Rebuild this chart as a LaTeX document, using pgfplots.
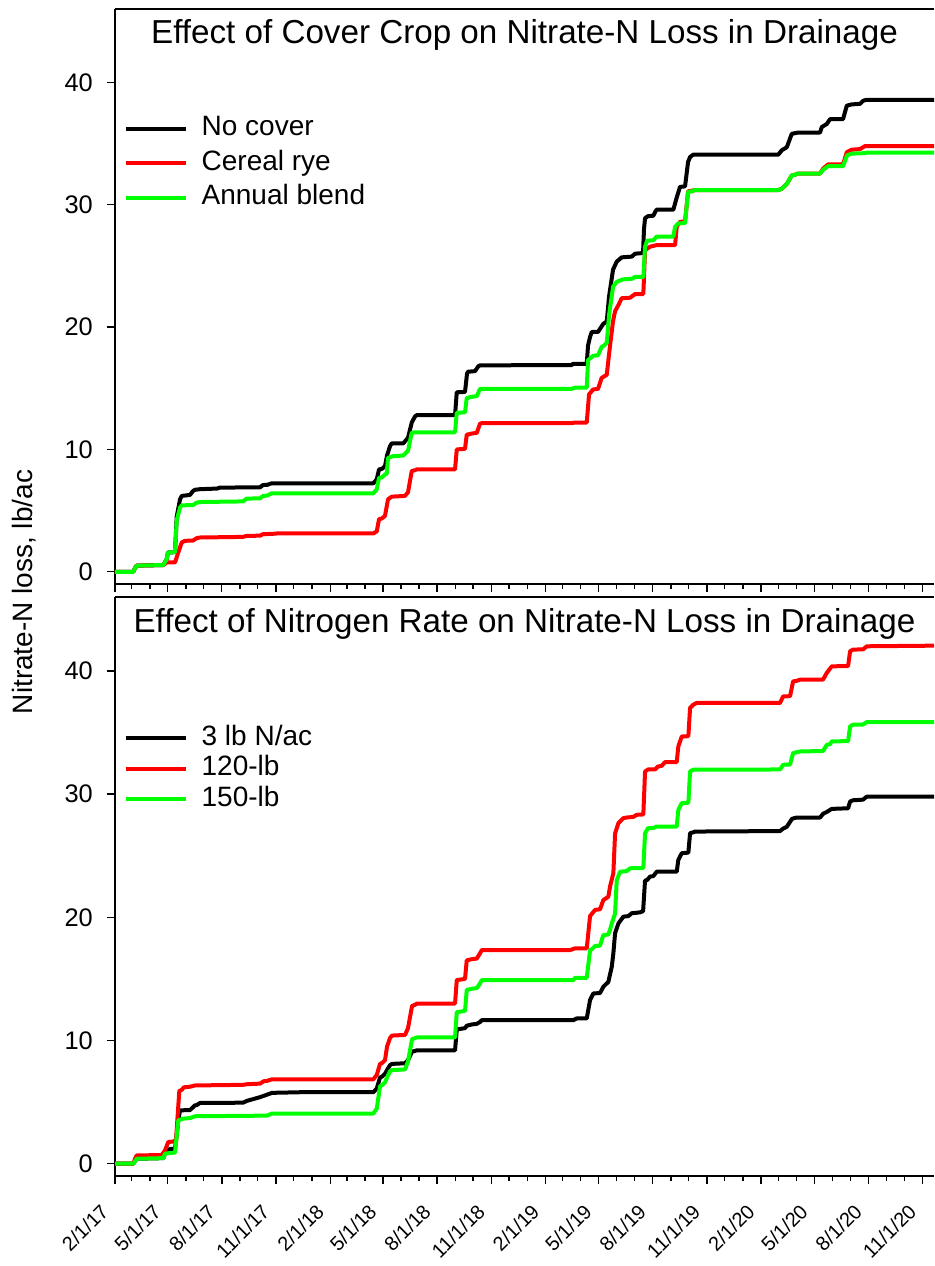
\documentclass[border=0pt]{standalone}
\usepackage{pgfplots}
\pgfplotsset{compat=1.18}
\usepackage{fontspec}
\setmainfont{Liberation Sans}
\definecolor{lred}{RGB}{255,0,0}
\definecolor{lgreen}{RGB}{0,255,0}
\pgfplotsset{
 common/.style={
  scale only axis, width=409.5pt,
  xmin=0, xmax=1388, ymin=-1, ymax=46,
  axis x line=box, axis y line=left,
  axis line style={-, line width=0.7pt},
  every tick/.style={black, line width=0.7pt},
  tick align=outside, xtick pos=left, ytick pos=left,
  xtick={0,89,181,273,365,454,546,638,730,819,911,1003,1095,1185,1277,1369},
  minor xtick={28,59,120,150,212,242,303,334,393,424,485,515,577,607,668,699,758,789,850,880,942,972,1033,1064,1124,1155,1216,1246,1308,1338},
  ytick={0,10,20,30,40},
  major tick length=4.2pt, minor tick length=2.4pt,
  yticklabel style={font=\fontsize{12.7}{15}\selectfont},
  /pgf/number format/assume math mode=true,
  yticklabel style={inner sep=0pt, xshift=-6.7pt, anchor=east},
  legend cell align=left,
  legend image code/.code={\draw[#1] (0pt,0pt) -- (30pt,0pt);},
  legend style={draw=none, fill=none, inner sep=0pt, font=\fontsize{14}{17}\selectfont, column sep=7pt, nodes={inner sep=0pt, text height=10pt, text depth=3pt}},
  every axis plot/.append style={line width=2pt, line join=round},
 }
}
\begin{document}
\begin{tikzpicture}
\useasboundingbox (0,0) rectangle (467pt,633pt);
% ---------------- top panel ----------------
\begin{axis}[common, at={(57.5pt,341pt)}, anchor=south west, height=287.5pt,
  xticklabels={},
  legend style={at={(axis description cs:0.0101,0.815)}, anchor=north west, row sep=4.25pt}]
\addplot[black] coordinates {(0,0) (31,0) (33.9,0.3) (36.8,0.5) (81.9,0.55) (87.6,1.03) (89.8,1.58) (101.7,1.6) (104.6,4.5) (110.2,5.92) (113.1,6.2) (127.1,6.28) (132.2,6.6) (135.6,6.7) (144.1,6.75) (172.9,6.8) (178,6.88) (245.8,6.9) (250.8,7.09) (257.6,7.1) (265.6,7.23) (437.8,7.23) (443.6,7.55) (447.5,8.37) (452,8.4) (457.6,8.63) (461,9.5) (466.1,10.27) (469,10.49) (488.6,10.5) (496.6,10.95) (502.9,12.2) (508.5,12.7) (511.4,12.8) (576.3,12.8) (579.2,14.67) (593.2,14.7) (596.6,16.2) (598.3,16.35) (610.2,16.4) (615.8,16.8) (618.6,16.87) (774.1,16.9) (776.3,17.0) (799.5,17.0) (801.7,18.5) (805.1,19.2) (808,19.6) (818.6,19.6) (827.6,20.27) (833.4,20.45) (837.3,22.5) (844.1,24.7) (850.3,25.35) (858.8,25.7) (875.8,25.76) (881.4,26.0) (894.9,26.05) (896.5,28.0) (898.3,28.9) (903.4,29.07) (912.4,29.1) (915.3,29.4) (918,29.6) (946.3,29.6) (952,30.6) (957.6,31.46) (966.1,31.5) (971.2,33.5) (974.6,33.9) (980.2,34.1) (1124.2,34.1) (1130,34.45) (1138.5,34.7) (1147,35.8) (1152.5,35.85) (1157.6,35.9) (1194.9,35.9) (1197.8,36.35) (1206.3,36.6) (1211.9,37.0) (1233.9,37.0) (1240.2,38.1) (1248.6,38.2) (1262.7,38.25) (1267.8,38.5) (1274.1,38.58) (1388,38.58)};
\addlegendentry{No cover}
\addplot[lred] coordinates {(0,0) (31,0) (33.9,0.3) (36.8,0.5) (81.9,0.55) (87.6,0.76) (101.7,0.76) (107.3,1.58) (113.1,2.4) (118.6,2.53) (132.2,2.55) (138.5,2.75) (144.1,2.8) (216.9,2.85) (223.2,2.93) (245.8,2.95) (250.8,3.07) (267.8,3.1) (274.1,3.13) (437.8,3.13) (443.6,3.3) (447.5,4.3) (452,4.35) (457.6,4.57) (462.7,5.92) (469,6.14) (491.5,6.2) (496.6,6.5) (502.9,8.23) (508.5,8.3) (511.4,8.37) (576.3,8.37) (579.2,10.0) (593.2,10.05) (596.1,11.2) (604.6,11.3) (613.1,11.35) (618.6,12.1) (621.5,12.15) (774.1,12.15) (779.7,12.2) (799.5,12.2) (803.4,14.5) (810.2,14.9) (818.6,14.95) (824.9,15.85) (833.4,16.1) (839,18.5) (844.1,20.5) (847.5,21.3) (853.1,21.8) (858.8,22.36) (872.9,22.4) (881.4,22.7) (895.4,22.7) (898.3,26.3) (906.8,26.57) (918.1,26.7) (949.2,26.7) (952,28.2) (957.6,28.6) (966.1,28.65) (971.2,31.1) (978,31.15) (983.1,31.2) (1124.2,31.2) (1130,31.3) (1138.5,31.7) (1147,32.4) (1152.5,32.45) (1157.6,32.55) (1194.9,32.55) (1200,32.95) (1208.5,33.3) (1233.9,33.3) (1240.2,34.3) (1248.6,34.5) (1262.7,34.55) (1271.2,34.8) (1388,34.8)};
\addlegendentry{Cereal rye}
\addplot[lgreen] coordinates {(0,0) (31,0) (33.9,0.3) (36.8,0.5) (81.9,0.55) (87.6,1.03) (89.8,1.58) (101.7,1.6) (104.6,4.2) (110.2,5.25) (113.1,5.43) (132.2,5.45) (138.5,5.65) (144.1,5.7) (216.9,5.75) (223.2,5.98) (245.8,6.0) (250.8,6.2) (257.6,6.22) (265.6,6.41) (437.8,6.41) (443.6,6.74) (447.5,7.69) (452,7.7) (457.6,7.96) (460.5,8.0) (462.7,9.32) (466.1,9.35) (471.2,9.45) (488.6,9.5) (496.6,9.9) (502.9,11.36) (508.5,11.4) (576.3,11.4) (579.2,13.0) (593.2,13.03) (596.1,14.2) (604.6,14.3) (613.1,14.35) (618.6,14.95) (774.1,14.95) (779.7,15.05) (799.5,15.05) (801.7,17.3) (810.2,17.65) (818.6,17.7) (824.9,18.4) (827.6,18.45) (833.4,18.7) (837.3,21.0) (844.1,23.3) (850.3,23.7) (861,23.9) (876.3,23.95) (881.4,24.1) (895.4,24.1) (898.3,26.57) (901.7,27.06) (912.4,27.1) (918.1,27.4) (946.3,27.4) (949.2,28.2) (954.7,28.47) (966.1,28.5) (971.2,31.05) (978,31.1) (983.1,31.2) (1124.2,31.2) (1130,31.3) (1138.5,31.7) (1147,32.4) (1152.5,32.45) (1157.6,32.55) (1194.9,32.55) (1200,32.85) (1208.5,33.15) (1233.9,33.15) (1240.7,34.04) (1248.6,34.18) (1262.7,34.2) (1271.2,34.22) (1274.6,34.26) (1388,34.26)};
\addlegendentry{Annual blend}
\node[anchor=base, font=\fontsize{16.6}{20}\selectfont] at ([yshift=-17pt]rel axis cs:0.5,1) {Effect of Cover Crop on Nitrate-N Loss in Drainage};
\end{axis}
% ---------------- bottom panel ----------------
\begin{axis}[common, at={(57.5pt,45pt)}, anchor=south west, height=289.5pt,
  xticklabels={2/1/17,5/1/17,8/1/17,11/1/17,2/1/18,5/1/18,8/1/18,11/1/18,2/1/19,5/1/19,8/1/19,11/1/19,2/1/20,5/1/20,8/1/20,11/1/20},
  xticklabel style={font=\fontsize{10}{12}\selectfont, xshift=-5pt, yshift=-11.75pt, rotate=45, anchor=east, inner sep=0pt},
  legend style={at={(axis description cs:0.0101,0.7796)}, anchor=north west, row sep=2.3pt}]
\addplot[black] coordinates {(0,0) (31,0) (33.9,0.2) (36.8,0.4) (81.9,0.45) (84.7,0.8) (89.8,1.08) (93.2,1.2) (101.7,1.2) (107.3,3.5) (110.2,4.33) (127.1,4.35) (135.6,4.74) (138.5,4.75) (144.1,4.93) (216.9,4.95) (223.7,5.1) (245.8,5.4) (257.6,5.6) (266.1,5.75) (313.6,5.8) (437.8,5.8) (443.6,6.1) (449.2,7.0) (452,7.05) (457.6,7.3) (461,7.6) (466.1,8.0) (469.5,8.1) (491.5,8.15) (496.6,8.4) (503.4,9.1) (508.5,9.15) (511.4,9.2) (576.3,9.2) (579.2,10.9) (593.2,11.0) (596.1,11.2) (604.6,11.3) (613.1,11.35) (618.6,11.5) (621.5,11.65) (776.8,11.65) (782.5,11.79) (799.5,11.79) (805.1,13.28) (810.7,13.82) (822,13.85) (827.6,14.36) (836.1,14.76) (841.9,15.98) (844.6,17.07) (847.5,18.7) (853.1,19.5) (861.5,20.05) (870,20.1) (875.8,20.33) (889.8,20.4) (895,20.5) (898.3,23.0) (901.2,23.0) (906.8,23.3) (912.4,23.35) (918.1,23.7) (952,23.7) (954.7,24.66) (960.5,25.2) (971.7,25.25) (974.6,26.83) (980.2,26.9) (983.1,26.96) (1127.1,27.0) (1132.2,27.2) (1138.5,27.35) (1147.5,28.0) (1155.4,28.1) (1195,28.1) (1200,28.4) (1206.3,28.55) (1214.7,28.8) (1242.4,28.85) (1245.8,29.4) (1250.8,29.5) (1267.8,29.55) (1274.1,29.8) (1388,29.8)};
\addlegendentry{3 lb N/ac}
\addplot[lred] coordinates {(0,0) (31,0) (33.9,0.4) (36.8,0.67) (79.2,0.7) (84.7,1.08) (90.3,1.76) (98.8,1.8) (103.4,1.9) (105.6,3.5) (109,5.9) (113.1,6.0) (116.9,6.2) (127.1,6.25) (135.6,6.35) (216.9,6.4) (223.7,6.45) (245.8,6.5) (252.5,6.7) (257.6,6.72) (266.1,6.85) (437.8,6.85) (443.6,7.2) (449.2,8.1) (452,8.15) (457.6,8.4) (461,9.5) (466.1,10.2) (469.5,10.4) (491.5,10.45) (496.6,11.0) (503.4,12.8) (508.5,12.9) (511.9,13.0) (576.3,13.0) (579.2,14.9) (593.2,15.0) (596.1,16.5) (604.6,16.6) (613.1,16.65) (618.6,17.07) (621.5,17.34) (771.2,17.34) (779.7,17.48) (799.5,17.48) (805.1,20.1) (813.6,20.6) (822,20.65) (827.6,21.4) (836.1,21.67) (839,22.5) (844.6,23.58) (847.5,26.8) (853.1,27.64) (861.5,28.05) (867.3,28.1) (878.5,28.15) (884.2,28.32) (895.4,28.35) (898.3,31.84) (903.4,32.0) (915.3,32.0) (920.3,32.24) (926.6,32.3) (932.2,32.6) (952,32.6) (954.7,33.87) (960.5,34.68) (971.7,34.7) (974.6,37.0) (980.2,37.26) (986,37.4) (1127.1,37.4) (1132.2,37.93) (1144.1,37.95) (1149.2,39.15) (1155.4,39.2) (1161,39.29) (1200,39.3) (1206.3,39.84) (1214.7,40.37) (1242.4,40.4) (1245.8,41.6) (1250.8,41.73) (1267.8,41.75) (1274.1,42.0) (1388,42.05)};
\addlegendentry{120-lb}
\addplot[lgreen] coordinates {(0,0) (31,0) (33.9,0.2) (36.8,0.4) (81.9,0.45) (84.7,0.8) (89.8,0.85) (101.7,0.9) (107.3,3.52) (115.8,3.66) (127.1,3.7) (135.6,3.85) (257.6,3.9) (266.1,4.07) (437.8,4.07) (443.6,4.47) (449.2,6.3) (452,6.35) (457.6,6.6) (461,7.0) (466.1,7.5) (469.5,7.6) (491.5,7.65) (496.6,8.3) (503.4,10.1) (508.5,10.2) (511.9,10.25) (576.3,10.25) (579.2,12.3) (593.2,12.4) (596.1,14.1) (604.6,14.2) (613.1,14.25) (618.6,14.63) (621.5,14.9) (776.8,14.9) (779.7,15.09) (799.5,15.09) (805.1,17.34) (808,17.4) (813.6,17.67) (822,17.7) (827.6,18.56) (836.1,18.6) (839,19.0) (841.9,19.5) (847.5,20.3) (850.3,23.0) (855.9,23.7) (867.3,23.75) (872.9,23.98) (895.4,24.0) (898.3,26.83) (903.4,27.24) (912.4,27.25) (918.1,27.37) (952,27.37) (954.7,28.72) (960.5,29.27) (971.7,29.3) (974.6,31.84) (980.2,31.98) (1127.1,32.0) (1132.2,32.38) (1144.1,32.4) (1149.2,33.33) (1155.4,33.4) (1161,33.46) (1200,33.5) (1206.3,34.0) (1211.9,34.05) (1214.7,34.28) (1242.4,34.3) (1245.8,35.5) (1250.8,35.63) (1267.8,35.65) (1274.1,35.85) (1388,35.85)};
\addlegendentry{150-lb}
\node[anchor=base, font=\fontsize{16.6}{20}\selectfont] at ([yshift=-17.5pt]rel axis cs:0.5,1) {Effect of Nitrogen Rate on Nitrate-N Loss in Drainage};
\end{axis}
\node[rotate=90, anchor=base, font=\fontsize{14}{17}\selectfont] at (16.5pt,337pt) {Nitrate-N loss, lb/ac};
\end{tikzpicture}
\end{document}
